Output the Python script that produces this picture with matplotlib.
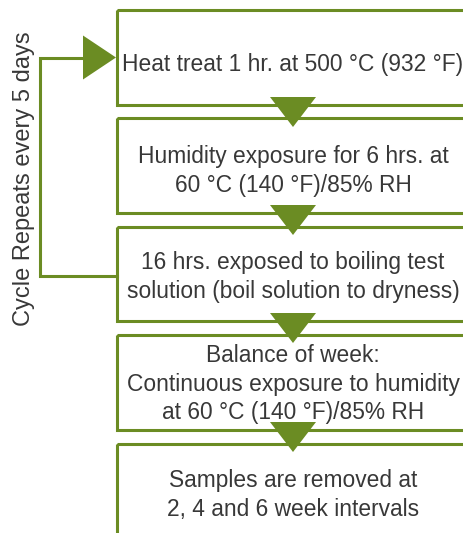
import matplotlib
matplotlib.use("Agg")
import matplotlib.pyplot as plt
from matplotlib.patches import Rectangle, Polygon

# ---- content ----
step_texts = [
    "Heat treat 1 hr. at 500 \u00b0C (932 \u00b0F)",
    "Humidity exposure for 6 hrs. at\n60 \u00b0C (140 \u00b0F)/85% RH",
    "16 hrs. exposed to boiling test\nsolution (boil solution to dryness)",
    "Balance of week:\nContinuous exposure to humidity\nat 60 \u00b0C (140 \u00b0F)/85% RH",
    "Samples are removed at\n2, 4 and 6 week intervals",
]
cycle_label = "Cycle Repeats every 5 days"

# ---- layout (pixels) ----
W, H = 463, 533
green = "#6B8C23"
txt_col = "#383838"
box_left, box_right = 117, 469
box_tops = [10, 118, 227, 335, 444]
box_bots = [105, 213, 321, 430, 560]
text_y = [64, 171, 277, 384, 495]
cx = (box_left + box_right) / 2

fig = plt.figure(figsize=(W / 100, H / 100), dpi=100)
ax = fig.add_axes([0, 0, 1, 1])
ax.set_xlim(0, W)
ax.set_ylim(H, 0)
ax.axis("off")

font = dict(family=["Liberation Sans", "DejaVu Sans"], color=txt_col)

for t, b, ty, s in zip(box_tops, box_bots, text_y, step_texts):
    ax.add_patch(Rectangle((box_left, t), box_right - box_left, b - t,
                           fill=False, edgecolor=green, lw=2.2, zorder=2))
    ax.text(cx, ty, s, ha="center", va="center", linespacing=1.32,
            fontsize=16.4, **font)

# down arrows between boxes
for b in box_bots[:-1]:
    ax.add_patch(Polygon([[cx - 23, b - 8], [cx + 23, b - 8], [cx, b + 22]],
                         closed=True, facecolor=green, edgecolor="none", zorder=3))

# cycle loop
loop_x = 40
y1 = (box_tops[0] + box_bots[0]) / 2
y3 = 276
ax.plot([box_left, loop_x, loop_x, 84], [y3, y3, y1, y1], color=green, lw=2.2,
        solid_joinstyle="miter", zorder=2)
ax.add_patch(Polygon([[83, y1 - 22], [83, y1 + 22], [116, y1]], closed=True,
                     facecolor=green, edgecolor="none", zorder=3))

ax.text(24, 179, cycle_label, rotation=90, ha="center", va="center",
        fontsize=17, **font)

fig.savefig("out.png", dpi=100)
